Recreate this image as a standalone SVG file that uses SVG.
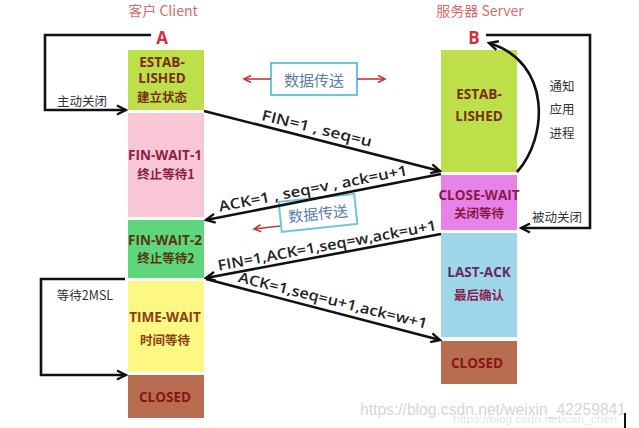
<svg xmlns="http://www.w3.org/2000/svg" width="639" height="428" viewBox="0 0 639 428">
<style>
.st{font-family:"Open Sans","Noto Sans","Noto Sans CJK SC",sans-serif;font-weight:bold;font-size:13.5px;text-anchor:middle;dominant-baseline:central}
.cj{font-family:"Noto Sans CJK SC","Noto Sans",sans-serif;font-weight:bold;font-size:12.5px;text-anchor:middle;dominant-baseline:central}
.lb{font-family:"Noto Sans CJK SC","Noto Sans",sans-serif;font-size:12.5px;fill:#333;text-anchor:middle;dominant-baseline:central}
.al{font-family:"Open Sans","Noto Sans","Noto Sans CJK SC",sans-serif;font-weight:600;font-size:14.5px;fill:#222;text-anchor:middle;dominant-baseline:central}
.ln{fill:none;stroke:#111;stroke-width:2.6}
.rd{fill:none;stroke:#c0393b;stroke-width:1.6}
.db{fill:#fff;stroke:#6cc6dc;stroke-width:2}
.dt{font-family:"Noto Sans CJK SC",sans-serif;font-size:15px;fill:#5a7ea8;text-anchor:middle;dominant-baseline:central}
</style>
<defs>
<marker id="ah" markerWidth="12" markerHeight="12" refX="10" refY="6" orient="auto" markerUnits="userSpaceOnUse">
<path d="M1,1.5 L10,6 L1,10.5" fill="none" stroke="#111" stroke-width="2.4"/>
</marker>
<marker id="rh" markerWidth="10" markerHeight="10" refX="8" refY="5" orient="auto" markerUnits="userSpaceOnUse">
<path d="M1,1.5 L8,5 L1,8.5" fill="none" stroke="#c0393b" stroke-width="1.6"/>
</marker>
</defs>
<rect width="639" height="428" fill="#fff"/>

<g id="titles">
<text x="163" y="10" font-family="Noto Sans CJK SC,sans-serif" font-size="14" fill="#d96a6e" text-anchor="middle" dominant-baseline="central">客户 Client</text>
<text x="480" y="10" font-family="Noto Sans CJK SC,sans-serif" font-size="14" fill="#d96a6e" text-anchor="middle" dominant-baseline="central">服务器 Server</text>
<text x="162" y="37" font-family="Open Sans,sans-serif" font-weight="bold" font-size="17" fill="#d0303a" text-anchor="middle" dominant-baseline="central">A</text>
<text x="474" y="37" font-family="Open Sans,sans-serif" font-weight="bold" font-size="17" fill="#d0303a" text-anchor="middle" dominant-baseline="central">B</text>
</g>

<g id="c-established">
<rect x="128" y="50" width="76" height="60" fill="#bde04a"/>
<text class="st" x="162" y="62" fill="#7a2e12" font-size="12">ESTAB-</text>
<text class="st" x="162" y="78" fill="#7a2e12" font-size="12">LISHED</text>
<text class="cj" x="162" y="96" fill="#7a2e12">建立状态</text>
</g>
<g id="c-finwait1">
<rect x="128" y="113" width="76" height="104" fill="#f9c6d6"/>
<text class="st" x="165" y="155" fill="#8b2044">FIN-WAIT-1</text>
<text class="cj" x="166" y="173" fill="#8b2044">终止等待1</text>
</g>
<g id="c-finwait2">
<rect x="128" y="220" width="76" height="58" fill="#5ed67c"/>
<text class="st" x="165" y="240" fill="#5a3418">FIN-WAIT-2</text>
<text class="cj" x="166" y="257" fill="#5a3418">终止等待2</text>
</g>
<g id="c-timewait">
<rect x="128" y="281" width="76" height="91" fill="#fdf784"/>
<text class="st" x="165" y="317" fill="#8b4013">TIME-WAIT</text>
<text class="cj" x="165" y="339" fill="#8b4013">时间等待</text>
</g>
<g id="c-closed">
<rect x="128" y="375" width="76" height="43" fill="#b86c50"/>
<text class="st" x="165" y="397" fill="#8b1416">CLOSED</text>
</g>

<g id="s-established">
<rect x="441" y="50" width="76" height="122" fill="#bde04a"/>
<text class="st" x="479" y="94" fill="#7a2e12" font-size="14.5">ESTAB-</text>
<text class="st" x="479" y="116" fill="#7a2e12" font-size="14.5">LISHED</text>
</g>
<g id="s-closewait">
<rect x="441" y="175" width="76" height="55" fill="#e682e8"/>
<text class="st" x="479" y="195" fill="#8b1a4a" font-size="13">CLOSE-WAIT</text>
<text class="cj" x="479" y="212" fill="#8b1a4a">关闭等待</text>
</g>
<g id="s-lastack">
<rect x="441" y="233" width="76" height="104" fill="#9ed7ea"/>
<text class="st" x="479" y="272" fill="#6a2a5a">LAST-ACK</text>
<text class="cj" x="479" y="294" fill="#8b2050">最后确认</text>
</g>
<g id="s-closed">
<rect x="441" y="341" width="76" height="43" fill="#b86c50"/>
<text class="st" x="477" y="363" fill="#8b1416">CLOSED</text>
</g>

<g id="data1">
<rect class="db" x="271" y="63" width="86" height="32"/>
<text class="dt" x="314" y="79">数据传送</text>
</g>
<g id="data2" transform="rotate(-6 317 213)">
<rect class="db" x="280" y="198" width="76" height="30"/>
<text class="dt" x="318" y="213">数据传送</text>
</g>

<g id="connectors">
<line class="rd" x1="271" y1="79" x2="244" y2="79" marker-end="url(#rh)"/>
<line class="rd" x1="357" y1="79" x2="385" y2="79" marker-end="url(#rh)"/>
<line class="rd" x1="280" y1="226" x2="254" y2="229" marker-end="url(#rh)"/>

<polyline class="ln" points="151,35 45,35 45,110 126,110" marker-end="url(#ah)"/>
<polyline class="ln" points="486,35 590,35 590,228 521,228" marker-end="url(#ah)"/>
<path class="ln" d="M517,172 C548,138 552,62 489,43" marker-end="url(#ah)"/>
<polyline class="ln" points="125,279 41,279 41,375 126,375" marker-end="url(#ah)"/>

<line class="ln" x1="204" y1="111" x2="440" y2="171" marker-end="url(#ah)"/>
<line class="ln" x1="441" y1="174" x2="206" y2="220" marker-end="url(#ah)"/>
<line class="ln" x1="441" y1="234" x2="206" y2="278" marker-end="url(#ah)"/>
<line class="ln" x1="206" y1="279" x2="440" y2="340" marker-end="url(#ah)"/>
</g>

<g id="labels">
<text class="lb" x="82" y="100">主动关闭</text>
<text class="lb" x="557" y="216">被动关闭</text>
<text class="lb" x="562" y="85">通知</text>
<text class="lb" x="562" y="108">应用</text>
<text class="lb" x="562" y="132">进程</text>
<text class="lb" x="85" y="294">等待2MSL</text>
<text class="al" x="317" y="128" transform="rotate(14 317 128)" textLength="113" lengthAdjust="spacingAndGlyphs">FIN=1 , seq=u</text>
<text class="al" x="313" y="188" transform="rotate(-11 313 188)" textLength="192" lengthAdjust="spacingAndGlyphs">ACK=1 , seq=v , ack=u+1</text>
<text class="al" x="327" y="245" transform="rotate(-10.5 327 245)" textLength="222" lengthAdjust="spacingAndGlyphs">FIN=1,ACK=1,seq=w,ack=u+1</text>
<text class="al" x="333" y="300" transform="rotate(14 333 300)" textLength="194" lengthAdjust="spacingAndGlyphs">ACK=1,seq=u+1,ack=w+1</text>
</g>

<g id="watermark">
<text x="360" y="409" font-family="Liberation Sans,sans-serif" font-size="16" fill="#d6d6d6" dominant-baseline="central" textLength="266" lengthAdjust="spacingAndGlyphs">https://blog.csdn.net/weixin_42259841</text>
<text x="453" y="419" font-family="Liberation Sans,sans-serif" font-size="11" fill="#e4e4e4" dominant-baseline="central" textLength="164" lengthAdjust="spacingAndGlyphs">https://blog.csdn.net/can_chen</text>
<rect x="624" y="413" width="2" height="15" fill="#111"/>
</g>
</svg>
